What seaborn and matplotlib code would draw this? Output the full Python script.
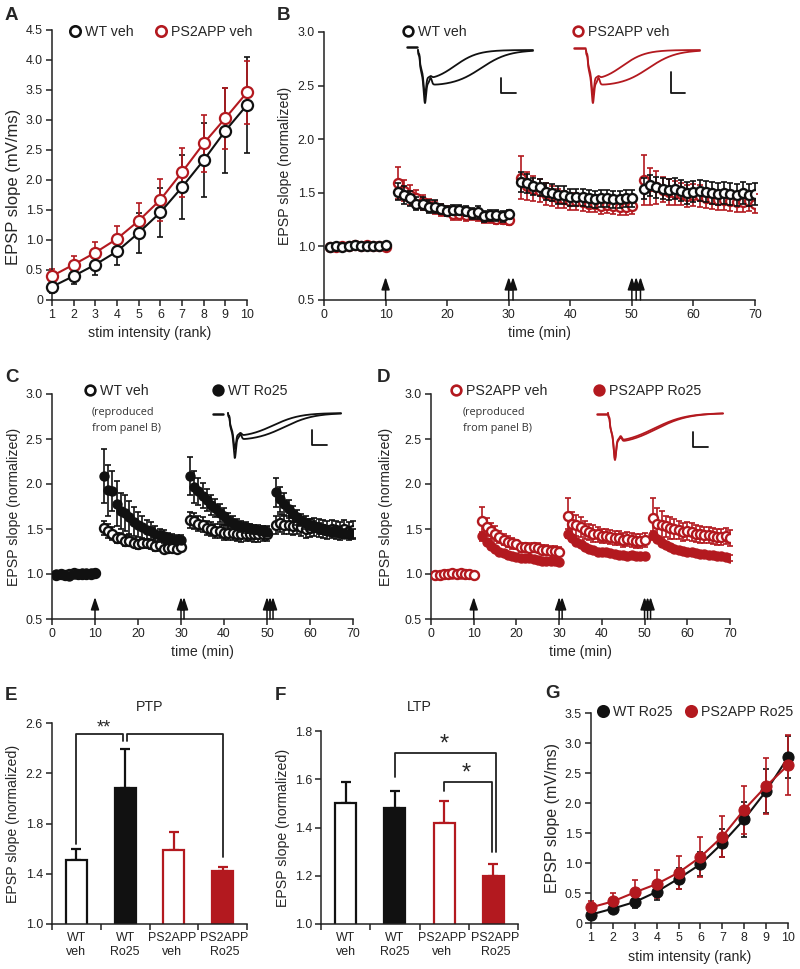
import numpy as np
import pandas as pd
import matplotlib
matplotlib.use("Agg")
import matplotlib.pyplot as plt
import seaborn as sns
from matplotlib.lines import Line2D
from matplotlib.ticker import FixedLocator, FixedFormatter
from matplotlib.transforms import ScaledTranslation

sns.set_theme(style="ticks")
plt.rcParams['font.family'] = ['Liberation Sans', 'DejaVu Sans']
plt.rcParams['axes.linewidth'] = 1.1
plt.rcParams['xtick.major.width'] = 1.1
plt.rcParams['ytick.major.width'] = 1.1
plt.rcParams['xtick.major.size'] = 4
plt.rcParams['ytick.major.size'] = 4
plt.rcParams['xtick.color'] = '#222222'
plt.rcParams['ytick.color'] = '#222222'
plt.rcParams['axes.edgecolor'] = '#222222'

RED = "#B3191F"
BLK = "#111111"

# ---------------- data ----------------
rank = [1, 2, 3, 4, 5, 6, 7, 8, 9, 10]
a_wt_veh = [0.22, 0.40, 0.59, 0.81, 1.12, 1.46, 1.88, 2.33, 2.82, 3.25]
a_wt_veh_err = [0.10, 0.13, 0.18, 0.23, 0.33, 0.41, 0.53, 0.62, 0.71, 0.80]
a_ps_veh = [0.40, 0.59, 0.79, 1.02, 1.32, 1.67, 2.13, 2.61, 3.03, 3.46]
a_ps_veh_err = [0.12, 0.14, 0.18, 0.22, 0.29, 0.35, 0.41, 0.48, 0.51, 0.53]
rank_ticklabels = ["1", "2", "3", "4", "5", "6", "7", "8", "9", "10"]
a_yticks = [0, 0.5, 1.0, 1.5, 2.0, 2.5, 3.0, 3.5, 4.0, 4.5]
a_yticklabels = ["0", "0.5", "1.0", "1.5", "2.0", "2.5", "3.0", "3.5", "4.0", "4.5"]

time_min = (list(range(1, 11)) + list(range(12, 31)) + list(range(32, 51)) + list(range(52, 71)))
tetanus_times = [10, 30, 30.7, 50, 50.7, 51.4]
time_ticks = [0, 10, 20, 30, 40, 50, 60, 70]
norm_yticks = [0.5, 1.0, 1.5, 2.0, 2.5, 3.0]
norm_yticklabels = ["0.5", "1.0", "1.5", "2.0", "2.5", "3.0"]

b_wt_veh = [0.99, 1.00, 0.99, 1.00, 1.01, 1.00, 1.00, 1.00, 1.00, 1.01,
            1.51, 1.48, 1.45, 1.40, 1.40, 1.37, 1.37, 1.35, 1.33, 1.34, 1.34, 1.33, 1.31, 1.32, 1.28, 1.29, 1.29, 1.28, 1.30,
            1.60, 1.59, 1.56, 1.55, 1.51, 1.50, 1.48, 1.48, 1.46, 1.46, 1.46, 1.45, 1.44, 1.45, 1.45, 1.44, 1.44, 1.45, 1.45,
            1.54, 1.57, 1.55, 1.54, 1.53, 1.54, 1.52, 1.50, 1.51, 1.52, 1.51, 1.50, 1.49, 1.50, 1.49, 1.48, 1.50, 1.48, 1.49]
b_wt_veh_err = [0.02] * 10 + \
    [0.08, 0.08, 0.07, 0.06, 0.06, 0.06, 0.06, 0.05, 0.05, 0.05, 0.05, 0.05, 0.05, 0.06, 0.05, 0.05, 0.05, 0.05, 0.04] + \
    [0.09, 0.09, 0.08, 0.08, 0.08, 0.08, 0.08, 0.08, 0.08, 0.08, 0.08, 0.08, 0.08, 0.08, 0.08, 0.08, 0.08, 0.08, 0.08] + \
    [0.10, 0.10, 0.10, 0.10, 0.10, 0.10, 0.10, 0.10, 0.10, 0.10, 0.10, 0.10, 0.10, 0.10, 0.10, 0.10, 0.10, 0.10, 0.10]
b_ps_veh = [0.99, 0.99, 1.00, 1.00, 1.01, 1.00, 1.01, 1.00, 1.00, 0.99,
            1.59, 1.52, 1.48, 1.45, 1.41, 1.38, 1.36, 1.34, 1.33, 1.30, 1.30, 1.29, 1.30, 1.29, 1.27, 1.27, 1.26, 1.26, 1.25,
            1.64, 1.56, 1.54, 1.52, 1.49, 1.47, 1.45, 1.44, 1.42, 1.42, 1.41, 1.40, 1.40, 1.38, 1.39, 1.38, 1.37, 1.37, 1.38,
            1.62, 1.56, 1.55, 1.53, 1.51, 1.50, 1.49, 1.47, 1.48, 1.47, 1.45, 1.44, 1.43, 1.43, 1.42, 1.41, 1.41, 1.42, 1.40]
b_ps_veh_err = [0.02] * 10 + \
    [0.15, 0.10, 0.09, 0.08, 0.07, 0.06, 0.06, 0.06, 0.05, 0.05, 0.05, 0.05, 0.05, 0.05, 0.05, 0.05, 0.05, 0.05, 0.05] + \
    [0.20, 0.13, 0.12, 0.11, 0.10, 0.09, 0.09, 0.08, 0.08, 0.08, 0.08, 0.08, 0.08, 0.08, 0.08, 0.08, 0.08, 0.08, 0.08] + \
    [0.23, 0.17, 0.15, 0.12, 0.12, 0.11, 0.10, 0.10, 0.10, 0.10, 0.09, 0.09, 0.09, 0.09, 0.09, 0.09, 0.09, 0.09, 0.09]
c_wt_ro25 = [1.00, 1.00, 0.99, 0.98, 1.00, 1.00, 1.01, 1.01, 1.01, 1.01,
             2.09, 1.93, 1.92, 1.78, 1.70, 1.68, 1.63, 1.58, 1.55, 1.52, 1.49, 1.48, 1.45, 1.43, 1.42, 1.40, 1.39, 1.38, 1.38,
             2.09, 1.97, 1.92, 1.87, 1.82, 1.77, 1.73, 1.68, 1.64, 1.60, 1.57, 1.55, 1.53, 1.52, 1.51, 1.50, 1.49, 1.48, 1.47,
             1.91, 1.83, 1.78, 1.72, 1.67, 1.63, 1.60, 1.57, 1.55, 1.53, 1.51, 1.50, 1.48, 1.47, 1.47, 1.46, 1.45, 1.45, 1.45]
c_wt_ro25_err = [0.02] * 10 + \
    [0.30, 0.28, 0.22, 0.25, 0.20, 0.20, 0.18, 0.16, 0.14, 0.12, 0.11, 0.10, 0.08, 0.07, 0.07, 0.06, 0.06, 0.05, 0.05] + \
    [0.21, 0.18, 0.15, 0.14, 0.12, 0.11, 0.10, 0.10, 0.09, 0.08, 0.07, 0.06, 0.06, 0.06, 0.05, 0.05, 0.05, 0.05, 0.05] + \
    [0.16, 0.14, 0.12, 0.10, 0.09, 0.08, 0.07, 0.07, 0.06, 0.06, 0.06, 0.05, 0.05, 0.05, 0.05, 0.05, 0.05, 0.05, 0.05]
d_ps_ro25 = [0.99, 0.99, 1.00, 1.00, 1.00, 1.00, 1.00, 1.00, 1.00, 0.99,
             1.42, 1.36, 1.31, 1.28, 1.25, 1.23, 1.21, 1.20, 1.19, 1.18, 1.18, 1.18, 1.17, 1.16, 1.15, 1.15, 1.15, 1.14, 1.13,
             1.45, 1.40, 1.36, 1.33, 1.30, 1.28, 1.27, 1.25, 1.24, 1.24, 1.23, 1.22, 1.21, 1.21, 1.20, 1.21, 1.20, 1.20, 1.20,
             1.43, 1.39, 1.35, 1.32, 1.30, 1.28, 1.27, 1.26, 1.25, 1.24, 1.23, 1.22, 1.22, 1.21, 1.21, 1.20, 1.20, 1.19, 1.18]
d_ps_ro25_err = [0.02] * 10 + [0.05] + [0.03] * 18 + [0.05] + [0.03] * 18 + [0.05] + [0.03] * 18

groups = ["WT\nveh", "WT\nRo25", "PS2APP\nveh", "PS2APP\nRo25"]
e_ptp = [1.51, 2.08, 1.59, 1.42]
e_ptp_err = [0.09, 0.31, 0.14, 0.03]
e_yticks = [1.0, 1.4, 1.8, 2.2, 2.6]
f_ltp = [1.50, 1.48, 1.42, 1.20]
f_ltp_err = [0.09, 0.07, 0.09, 0.05]
f_yticks = [1.0, 1.2, 1.4, 1.6, 1.8]

g_wt_ro25 = [0.14, 0.24, 0.35, 0.52, 0.74, 0.98, 1.33, 1.73, 2.20, 2.76]
g_wt_ro25_err = [0.06, 0.07, 0.10, 0.14, 0.18, 0.20, 0.23, 0.29, 0.36, 0.35]
g_ps_ro25 = [0.26, 0.36, 0.51, 0.65, 0.84, 1.10, 1.44, 1.89, 2.28, 2.63]
g_ps_ro25_err = [0.10, 0.14, 0.20, 0.24, 0.28, 0.33, 0.34, 0.40, 0.47, 0.50]
g_yticks = [0, 0.5, 1.0, 1.5, 2.0, 2.5, 3.0, 3.5]
g_yticklabels = ["0", "0.5", "1.0", "1.5", "2.0", "2.5", "3.0", "3.5"]

# ---------------- figure ----------------
W, H = 800, 969
fig = plt.figure(figsize=(8.0, 9.69), dpi=100)
TICK_FS = 8.9
LAB_FS = 10.2


def add_ax(x0, y0, x1, y1):
    ax = fig.add_axes([x0 / W, 1 - y1 / H, (x1 - x0) / W, (y1 - y0) / H])
    sns.despine(ax=ax)
    ax.tick_params(labelsize=TICK_FS, pad=2.5)
    return ax


def legend_at(label, color, filled, mx, my, ms=7):
    h = Line2D([], [], marker='o', linestyle='', markersize=ms,
               markerfacecolor=color if filled else 'white',
               markeredgecolor=color, markeredgewidth=1.9)
    fig.legend(handles=[h], labels=[label], loc='center left',
               bbox_to_anchor=((mx - 5.5) / W, 1 - my / H), frameon=False,
               handlelength=0.8, handletextpad=0.3, borderpad=0,
               borderaxespad=0, fontsize=10.2)


def panel_letter(ch, x, y):
    fig.text(x / W, 1 - y / H, ch, fontsize=13.5, fontweight='bold',
             ha='left', va='center')


def set_ylabel(ax, text, xfrac, yfrac=0.5, fs=LAB_FS):
    ax.set_ylabel(text, fontsize=fs)
    ax.yaxis.set_label_coords(xfrac, yfrac)


def set_xlabel(ax, text, top_px, ax_bottom_px, ax_h_px):
    ax.set_xlabel(text, fontsize=LAB_FS)
    ax.xaxis.set_label_coords(0.5, -(top_px - ax_bottom_px) / ax_h_px)


def errbars(ax, x, y, e, color, cap=2.2, lw=1.2, z=1):
    ax.errorbar(x, y, yerr=e, fmt='none', ecolor=color, elinewidth=lw,
                capsize=cap, capthick=lw, zorder=z, clip_on=False)


def arrows(ax, top):
    for t in tetanus_times:
        ax.annotate('', xy=(t, top), xytext=(t, 0.5),
                    arrowprops=dict(arrowstyle='-|>,head_length=0.75,head_width=0.25',
                                    color=BLK, lw=1.1, mutation_scale=10,
                                    shrinkA=0, shrinkB=0))


def trace_shape(u, dip, slow_amp, c, w, bump):
    art = -0.10 * np.exp(-((u - 0.012) / 0.005) ** 2)
    rise = 1 - np.exp(-u / 0.03)
    slow = slow_amp * rise / (1 + np.exp((u - c) / w))
    s_at = slow_amp * (1 - np.exp(-0.06 / 0.03)) / (1 + np.exp((0.06 - c) / w))
    main = (dip - s_at) * np.exp(-((u - 0.06) / 0.014) ** 2)
    pk = -bump * np.exp(-((u - 0.11) / 0.014) ** 2)
    return art + main + slow + pk


def inset(x0, y0, w, h, color, stim, t0, t1, base, depth, shapes, scale):
    iax = fig.add_axes([x0 / W, 1 - (y0 + h) / H, w / W, h / H])
    iax.set_xlim(0, w)
    iax.set_ylim(h, 0)
    iax.axis('off')
    iax.plot([stim[0], stim[1]], [stim[2], stim[2]], color=color, lw=1.8)
    u = np.linspace(0, 1, 800)
    for p in shapes:
        v = trace_shape(u, *p)
        iax.plot(t0 + u * (t1 - t0), base + depth * v, color=color, lw=1.3)
    sx, sy0, sy1, sx1 = scale
    iax.plot([sx, sx, sx1], [sy0, sy1, sy1], color=BLK, lw=1.3)
    return iax


# ---------------- Panel A ----------------
axA = add_ax(52, 30, 247, 300)
errbars(axA, rank, a_wt_veh, a_wt_veh_err, BLK, z=2)
errbars(axA, rank, a_ps_veh, a_ps_veh_err, RED, z=2)
sns.lineplot(x=rank, y=a_ps_veh, ax=axA, color=RED, lw=1.5, marker='o',
             markersize=8, markerfacecolor='white', markeredgecolor=RED,
             markeredgewidth=1.6, zorder=3, clip_on=False)
sns.lineplot(x=rank, y=a_wt_veh, ax=axA, color=BLK, lw=1.5, marker='o',
             markersize=8, markerfacecolor='white', markeredgecolor=BLK,
             markeredgewidth=1.6, zorder=4, clip_on=False)
axA.set_xlim(1, 10)
axA.set_ylim(0, 4.5)
axA.xaxis.set_major_locator(FixedLocator(rank))
axA.xaxis.set_major_formatter(FixedFormatter(rank_ticklabels))
axA.yaxis.set_major_locator(FixedLocator(a_yticks))
axA.yaxis.set_major_formatter(FixedFormatter(a_yticklabels))
set_ylabel(axA, "EPSP slope (mV/ms)", -0.16, 0.42, fs=12)
set_xlabel(axA, "stim intensity (rank)", 326, 300, 270)
legend_at("WT veh", BLK, False, 75, 32, ms=7.5)
legend_at("PS2APP veh", RED, False, 161, 32, ms=7.5)
panel_letter("A", 5, 16)

# ---------------- Panel B ----------------
axB = add_ax(324, 32, 755, 300)
errbars(axB, time_min, b_ps_veh, b_ps_veh_err, RED, cap=2, z=1)
sns.scatterplot(x=time_min, y=b_ps_veh, ax=axB, marker='o', s=42,
                facecolor='white', edgecolor=RED, linewidth=1.7, zorder=2)
errbars(axB, time_min, b_wt_veh, b_wt_veh_err, BLK, cap=2, z=3)
sns.scatterplot(x=time_min, y=b_wt_veh, ax=axB, marker='o', s=42,
                facecolor='white', edgecolor=BLK, linewidth=1.7, zorder=4)
axB.set_xlim(0, 70)
axB.set_ylim(0.5, 3.0)
axB.set_xticks(time_ticks)
axB.yaxis.set_major_locator(FixedLocator(norm_yticks))
axB.yaxis.set_major_formatter(FixedFormatter(norm_yticklabels))
arrows(axB, 0.5 + 23 * 2.5 / 268)
set_ylabel(axB, "EPSP slope (normalized)", -0.074)
set_xlabel(axB, "time (min)", 326, 300, 268)
legend_at("WT veh", BLK, False, 408, 32)
legend_at("PS2APP veh", RED, False, 578, 32)
panel_letter("B", 277, 16)
inset(402, 40, 140, 70, BLK, (5, 15, 7), 16, 131, 10, 53,
      [(1.0, 0.68, 0.55, 0.12, 0.12), (0.85, 0.60, 0.32, 0.10, 0.03)],
      (99, 38, 53, 114))
inset(570, 40, 140, 70, RED, (4, 15, 8), 16, 130, 10, 53,
      [(1.0, 0.68, 0.55, 0.12, 0.12), (0.85, 0.60, 0.32, 0.10, 0.03)],
      (101, 32, 53, 115))

# ---------------- Panel C ----------------
axC = add_ax(52, 394, 353, 619)
errbars(axC, time_min, b_wt_veh, b_wt_veh_err, BLK, cap=2, z=1)
sns.scatterplot(x=time_min, y=b_wt_veh, ax=axC, marker='o', s=42,
                facecolor='white', edgecolor=BLK, linewidth=1.7, zorder=2)
errbars(axC, time_min, c_wt_ro25, c_wt_ro25_err, BLK, cap=2, z=3)
sns.scatterplot(x=time_min, y=c_wt_ro25, ax=axC, marker='o', s=42,
                color=BLK, edgecolor=BLK, linewidth=1.0, zorder=4)
axC.set_xlim(0, 70)
axC.set_ylim(0.5, 3.0)
axC.set_xticks(time_ticks)
axC.yaxis.set_major_locator(FixedLocator(norm_yticks))
axC.yaxis.set_major_formatter(FixedFormatter(norm_yticklabels))
arrows(axC, 0.5 + 22 * 2.5 / 225)
set_ylabel(axC, "EPSP slope (normalized)", -0.103)
set_xlabel(axC, "time (min)", 645, 619, 225)
legend_at("WT veh", BLK, False, 90, 391)
legend_at("WT Ro25", BLK, True, 218, 391)
fig.text(92 / W, 1 - 412 / H, "(reproduced", fontsize=7.8, color='#333333',
         family=['Open Sans', 'DejaVu Sans'], va='center')
fig.text(92 / W, 1 - 428 / H, "from panel B)", fontsize=7.8, color='#333333',
         family=['Open Sans', 'DejaVu Sans'], va='center')
panel_letter("C", 5, 377)
inset(210, 405, 140, 60, BLK, (3, 13, 9), 18, 131, 8, 45,
      [(1.0, 0.62, 0.5, 0.13, 0.10), (0.80, 0.55, 0.4, 0.12, 0.05)],
      (102, 25, 40, 117))

# ---------------- Panel D ----------------
axD = add_ax(431, 394, 730, 619)
errbars(axD, time_min, d_ps_ro25, d_ps_ro25_err, RED, cap=2, z=1)
sns.scatterplot(x=time_min, y=d_ps_ro25, ax=axD, marker='o', s=42,
                color=RED, edgecolor=RED, linewidth=1.0, zorder=2)
errbars(axD, time_min, b_ps_veh, b_ps_veh_err, RED, cap=2, z=3)
sns.scatterplot(x=time_min, y=b_ps_veh, ax=axD, marker='o', s=42,
                facecolor='white', edgecolor=RED, linewidth=1.7, zorder=4)
axD.set_xlim(0, 70)
axD.set_ylim(0.5, 3.0)
axD.set_xticks(time_ticks)
axD.yaxis.set_major_locator(FixedLocator(norm_yticks))
axD.yaxis.set_major_formatter(FixedFormatter(norm_yticklabels))
arrows(axD, 0.5 + 22 * 2.5 / 225)
set_ylabel(axD, "EPSP slope (normalized)", -0.127)
set_xlabel(axD, "time (min)", 645, 619, 225)
legend_at("PS2APP veh", RED, False, 456, 391)
legend_at("PS2APP Ro25", RED, True, 599, 391)
fig.text(463 / W, 1 - 412 / H, "(reproduced", fontsize=7.8, color='#333333',
         family=['Open Sans', 'DejaVu Sans'], va='center')
fig.text(463 / W, 1 - 428 / H, "from panel B)", fontsize=7.8, color='#333333',
         family=['Open Sans', 'DejaVu Sans'], va='center')
panel_letter("D", 377, 377)
inset(595, 405, 140, 62, RED, (2, 12, 9), 13, 128, 8, 47,
      [(1.0, 0.68, 0.42, 0.14, 0.08), (0.97, 0.66, 0.40, 0.14, 0.08)],
      (98, 27, 42, 113))


# ---------------- Bars E / F ----------------
def bar_panel(ax, vals, errs):
    df = pd.DataFrame({"group": groups, "val": vals})
    sns.barplot(data=df, x="group", y="val", ax=ax, width=0.43,
                color='white', errorbar=None, linewidth=1.6, edgecolor=BLK)
    faces = ['white', BLK, 'white', RED]
    edges = [BLK, BLK, RED, RED]
    for p, fc, ec in zip(ax.patches, faces, edges):
        p.set_facecolor(fc)
        p.set_edgecolor(ec)
    for i, (v, e) in enumerate(zip(vals, errs)):
        ax.errorbar([i], [v], yerr=[[0], [e]], fmt='none', ecolor=edges[i],
                    elinewidth=1.6, capsize=3.5, capthick=1.6, zorder=0.5)
    ax.set_xlim(-0.5, 3.5)
    ax.set_xlabel("")
    ax.xaxis.set_minor_locator(FixedLocator([-0.5, 0.5, 1.5, 2.5, 3.5]))
    ax.tick_params(axis='x', which='major', length=0, labelsize=8.9, pad=6)
    ax.tick_params(axis='x', which='minor', length=4, width=1.1, color='#222222')
    ticks = ax.xaxis.get_major_ticks()
    for idx, dx in [(2, -2.0), (3, 2.0)]:
        lab = ticks[idx].label1
        lab.set_transform(lab.get_transform() + ScaledTranslation(dx / 100, 0, fig.dpi_scale_trans))


axE = add_ax(52, 723, 247, 924)
bar_panel(axE, e_ptp, e_ptp_err)
axE.set_ylim(1.0, 2.6)
axE.set_yticks(e_yticks)
set_ylabel(axE, "EPSP slope (normalized)", -0.164)
axE.text(0.5, 1.08, "PTP", transform=axE.transAxes, ha='center', va='center',
         fontsize=10.2)
bk = dict(color='#222222', lw=1.3, clip_on=False)
axE.plot([0, 0, 0.96, 0.96], [1.64, 2.51, 2.51, 2.46], **bk)
axE.plot([1.04, 1.04, 3, 3], [2.46, 2.51, 2.51, 1.53], **bk)
axE.text(0.57, 2.49, "**", ha='center', va='bottom', fontsize=13)
panel_letter("E", 5, 695)

axF = add_ax(321, 731, 518, 924)
bar_panel(axF, f_ltp, f_ltp_err)
axF.set_ylim(1.0, 1.8)
axF.set_yticks(f_yticks)
set_ylabel(axF, "EPSP slope (normalized)", -0.157)
axF.text(0.5, 1.124, "LTP", transform=axF.transAxes, ha='center', va='center',
         fontsize=10.2)
axF.plot([1, 1, 3.05, 3.05], [1.61, 1.71, 1.71, 1.30], **bk)
axF.plot([2, 2, 2.97, 2.97], [1.55, 1.59, 1.59, 1.30], **bk)
axF.text(2.0, 1.745, "*", ha='center', va='center', fontsize=17)
axF.text(2.45, 1.625, "*", ha='center', va='center', fontsize=17)
panel_letter("F", 275, 695)

# ---------------- Panel G ----------------
axG = add_ax(591, 713, 788, 923)
errbars(axG, rank, g_wt_ro25, g_wt_ro25_err, BLK, z=2)
errbars(axG, rank, g_ps_ro25, g_ps_ro25_err, RED, z=2)
sns.lineplot(x=rank, y=g_wt_ro25, ax=axG, color=BLK, lw=1.5, marker='o',
             markersize=8, markerfacecolor=BLK, markeredgecolor=BLK,
             zorder=3, clip_on=False)
sns.lineplot(x=rank, y=g_ps_ro25, ax=axG, color=RED, lw=1.5, marker='o',
             markersize=8, markerfacecolor=RED, markeredgecolor=RED,
             zorder=4, clip_on=False)
axG.set_xlim(1, 10)
axG.set_ylim(0, 3.5)
axG.xaxis.set_major_locator(FixedLocator(rank))
axG.xaxis.set_major_formatter(FixedFormatter(rank_ticklabels))
axG.yaxis.set_major_locator(FixedLocator(g_yticks))
axG.yaxis.set_major_formatter(FixedFormatter(g_yticklabels))
set_ylabel(axG, "EPSP slope (mV/ms)", -0.157, fs=11.5)
set_xlabel(axG, "stim intensity (rank)", 950, 923, 210)
legend_at("WT Ro25", BLK, True, 603, 712, ms=7.5)
legend_at("PS2APP Ro25", RED, True, 691, 712, ms=7.5)
panel_letter("G", 545, 694)

fig.savefig("out.png", dpi=100, facecolor='white')
